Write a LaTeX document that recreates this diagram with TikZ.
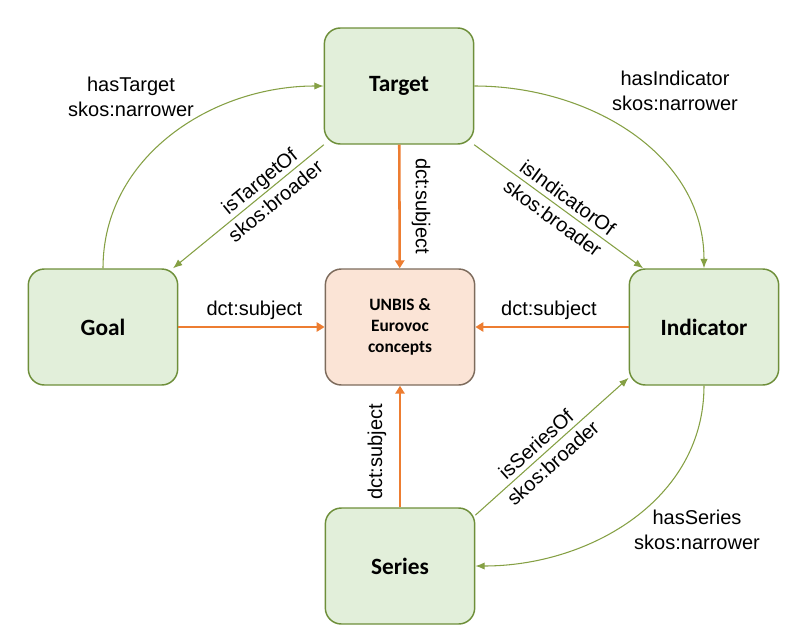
\documentclass[tikz,border=0pt]{standalone}
\usepackage{fontspec}
\setmainfont{Liberation Sans}
\newfontfamily\calibri{Carlito}
\usetikzlibrary{arrows.meta}
\definecolor{boxgreen}{HTML}{E2EFDA}
\definecolor{edgegreen}{HTML}{6E8F3A}
\definecolor{linegreen}{HTML}{85A044}
\definecolor{boxorange}{HTML}{FBE4D6}
\definecolor{edgebrown}{HTML}{7D6B5C}
\definecolor{lineorange}{HTML}{ED7D31}
\begin{document}
\begin{tikzpicture}[x=0.75pt, y=-0.75pt, every node/.style={text centered},
	conceptbox/.style={draw=edgegreen, fill=boxgreen, line width=1.1pt, rounded corners=12pt,
		minimum width=112pt, minimum height=87pt, font=\calibri\bfseries\fontsize{17.5}{21}\selectfont},
	vocabbox/.style={conceptbox, draw=edgebrown, fill=boxorange, align=center,
		font=\calibri\bfseries\fontsize{13}{16}\selectfont},
	skoslink/.style={draw=linegreen, line width=0.8pt, -{Latex[length=7pt, width=5.5pt]}},
	subjlink/.style={draw=lineorange, line width=1.9pt, -{Triangle[length=6pt, width=7pt]}},
	lbl/.style={font=\fontsize{15}{19}\selectfont, align=center, inner sep=1pt}]
	\useasboundingbox (0,0) rectangle (800,639);

	\node[conceptbox] (target)    at (399,86)  {Target};
	\node[conceptbox] (goal)      at (103,327) {Goal};
	\node[vocabbox]   (vocab)     at (400,327) {UNBIS \&\\Eurovoc\\concepts};
	\node[conceptbox] (indicator) at (704,327) {Indicator};
	\node[conceptbox] (series)    at (400,566) {Series};

	% dct:subject
	\draw[subjlink] (target) -- (vocab);
	\node[lbl, rotate=-90] (subjtop) at (421,206) {dct:subject};
	\draw[subjlink] (goal) -- (vocab)
		node[lbl, pos=0.52, yshift=12.5pt] {dct:subject};
	\draw[subjlink] (indicator) -- (vocab)
		node[lbl, pos=0.52, yshift=12.5pt] {dct:subject};
	\draw[subjlink] (series) -- (vocab);
	\node[lbl, rotate=90] (subjbottom) at (377,452) {dct:subject};

	% narrower / broader
	\draw[skoslink] (goal.north) to[out=90, in=180] (target.west);
	\node[lbl] (hastarget) at (131,97) {hasTarget\\skos:narrower};
	\draw[skoslink] (target.218) -- (goal.40.6)
		node[lbl, pos=0.375, sloped] {isTargetOf\\skos:broader};

	\draw[skoslink] (target.east) to[out=0, in=90] (indicator.north);
	\node[lbl] (hasindicator) at (675,91) {hasIndicator\\skos:narrower};
	\draw[skoslink] (target.322) -- (indicator.136)
		node[lbl, pos=0.51, sloped] {isIndicatorOf\\skos:broader};

	\draw[skoslink] (indicator.south) to[out=-90, in=0] (series.east);
	\node[lbl] (hasseries) at (697,530) {hasSeries\\skos:narrower};
	\draw[skoslink] (series.34) -- (indicator.214.6)
		node[lbl, pos=0.45, sloped] {isSeriesOf\\skos:broader};
\end{tikzpicture}
\end{document}
